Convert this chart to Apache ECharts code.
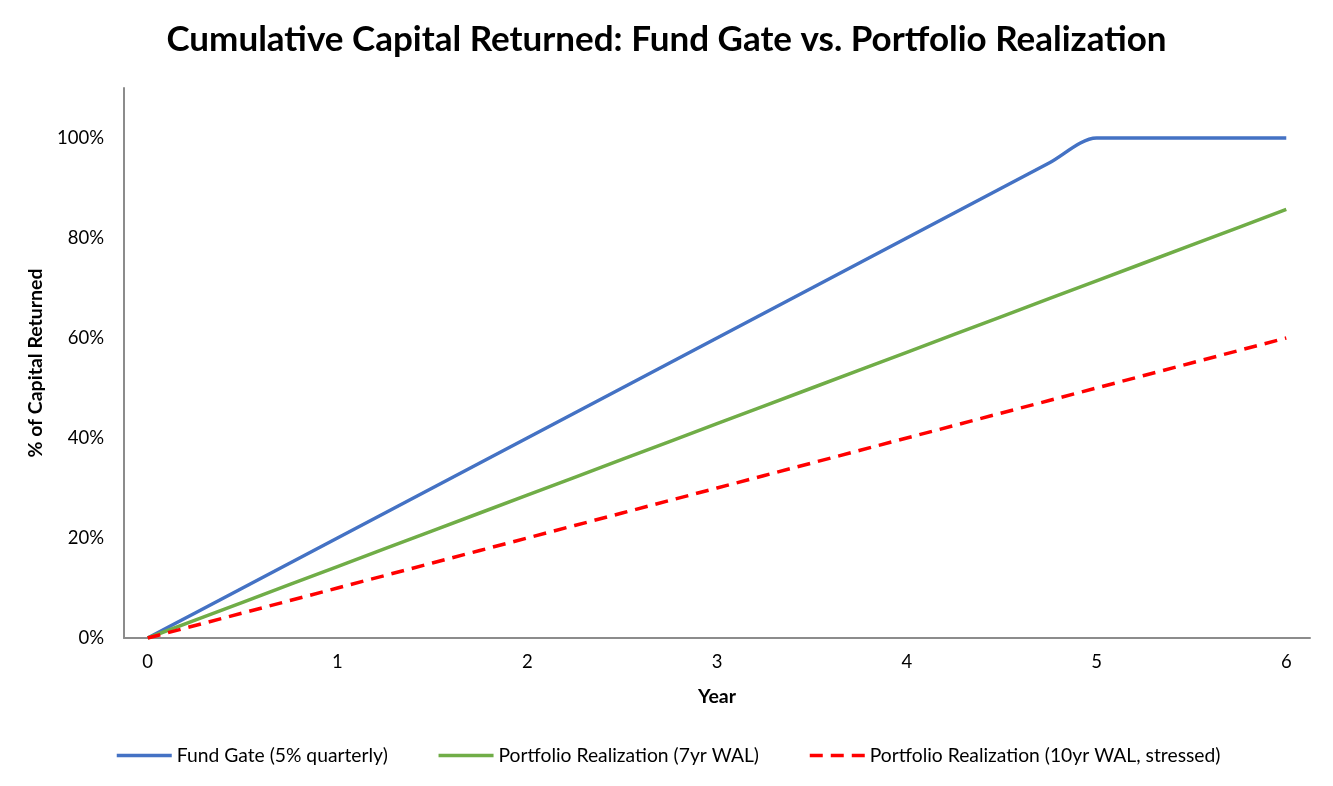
<!DOCTYPE html>
<html>
<head>
<meta charset="utf-8">
<script src="https://cdn.jsdelivr.net/npm/echarts@6/dist/echarts.min.js"></script>
<style>html,body{margin:0;padding:0;background:#fff;}#c{width:1333px;height:786px;}</style>
</head>
<body>
<div id="c"></div>
<script>
// Quarterly points, years 0..6
const quarters = ['0','0.25','0.5','0.75','1','1.25','1.5','1.75','2','2.25','2.5','2.75','3','3.25','3.5','3.75','4','4.25','4.5','4.75','5','5.25','5.5','5.75','6'];
const fundGate = [0,5,10,15,20,25,30,35,40,45,50,55,60,65,70,75,80,85,90,95,100,100,100,100,100];
const realization7yr = [0,3.57,7.14,10.71,14.29,17.86,21.43,25,28.57,32.14,35.71,39.29,42.86,46.43,50,53.57,57.14,60.71,64.29,67.86,71.43,75,78.57,82.14,85.71];
const realization10yr = [0,2.5,5,7.5,10,12.5,15,17.5,20,22.5,25,27.5,30,32.5,35,37.5,40,42.5,45,47.5,50,52.5,55,57.5,60];
const seriesNames = ['Fund Gate (5% quarterly)','Portfolio Realization (7yr WAL)','Portfolio Realization (10yr WAL, stressed)'];

const FONT = 'Lato, "Open Sans", sans-serif';
const chart = echarts.init(document.getElementById('c'), null, {renderer:'canvas'});
chart.setOption({
  animation: false,
  backgroundColor: '#fff',
  title: {
    text: 'Cumulative Capital Returned: Fund Gate vs. Portfolio Realization',
    left: 'center', top: 17,
    textStyle: {fontFamily: FONT, fontSize: 35, fontWeight: 'bold', color: '#000'}
  },
  legend: {
    bottom: 16, left: 110,
    itemWidth: 55, itemHeight: 14, itemGap: 49,
    itemStyle: {opacity: 0},
    lineStyle: {width: 3.5},
    textStyle: {fontFamily: FONT, fontSize: 19.3, color: '#000'},
    data: seriesNames
  },
  grid: {left: 124, right: 23, top: 88, bottom: 148},
  xAxis: {
    type: 'category',
    data: quarters,
    boundaryGap: true,
    name: 'Year', nameLocation: 'middle', nameGap: 49,
    nameTextStyle: {fontFamily: FONT, fontSize: 19.5, fontWeight: 'bold', color: '#000'},
    axisLine: {show: true, lineStyle: {color: '#8c8c8c', width: 2}},
    axisTick: {show: false},
    axisLabel: {interval: 3, margin: 15, fontFamily: FONT, fontSize: 18.5, color: '#000'},
    splitLine: {show: false}
  },
  yAxis: {
    type: 'value', min: 0, max: 110, interval: 20,
    name: '% of Capital Returned', nameLocation: 'middle', nameGap: 74, nameRotate: 90,
    nameTextStyle: {fontFamily: FONT, fontSize: 19.5, fontWeight: 'bold', color: '#000'},
    axisLine: {show: true, lineStyle: {color: '#8c8c8c', width: 2}},
    axisTick: {show: false},
    axisLabel: {margin: 20, showMaxLabel: false, fontFamily: FONT, fontSize: 18.5, color: '#000',
                formatter: v => (v > 100 ? '' : v + '%')},
    splitLine: {show: false}
  },
  series: [
    {name: seriesNames[0], type: 'line', data: fundGate, symbol: 'none', smooth: 0.3,
     lineStyle: {color: '#4472C4', width: 3.5}, itemStyle: {color: '#4472C4'}},
    {name: seriesNames[1], type: 'line', data: realization7yr, symbol: 'none',
     lineStyle: {color: '#70AD47', width: 3.5}, itemStyle: {color: '#70AD47'}},
    {name: seriesNames[2], type: 'line', data: realization10yr, symbol: 'none',
     lineStyle: {color: '#FF0000', width: 3.5, type: [13, 8]}, itemStyle: {color: '#FF0000'}}
  ]
});
</script>
</body>
</html>
